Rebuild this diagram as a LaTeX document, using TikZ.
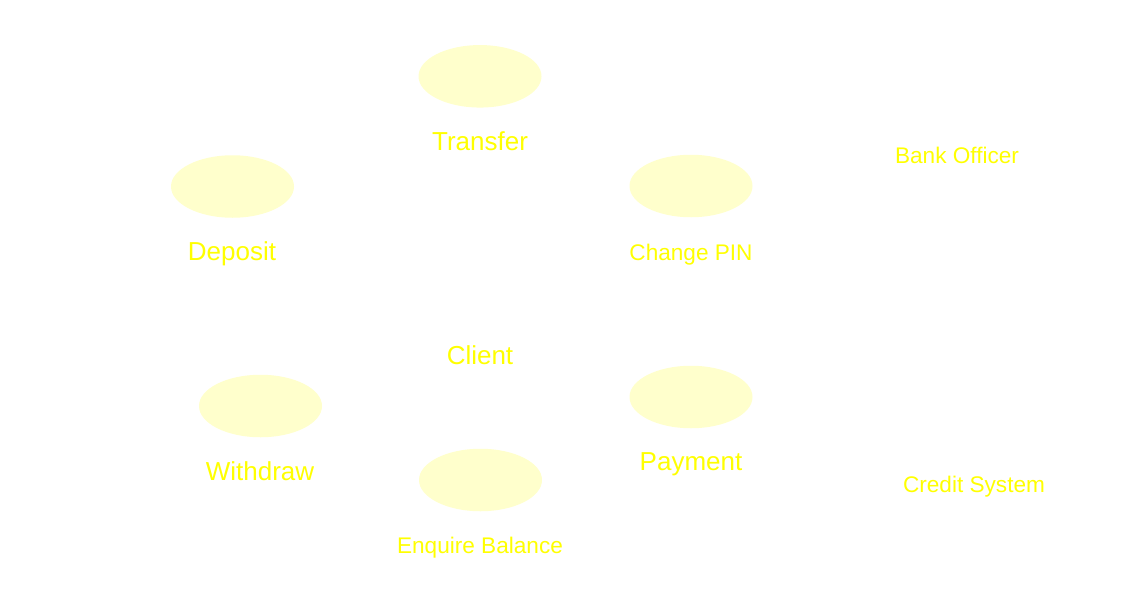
\documentclass[tikz,border=0pt]{standalone}
\usepackage{fontspec}
\setmainfont{Liberation Sans}
\usetikzlibrary{shapes.geometric}
\definecolor{ucfill}{HTML}{FFFFCC}
\definecolor{uctext}{HTML}{FFFF00}
\begin{document}
\begin{tikzpicture}[x=1pt,y=-1pt,
  usecase/.style={ellipse,fill=ucfill,draw=none,minimum width=123pt,minimum height=62.5pt,inner sep=0pt},
  biglabel/.style={anchor=base,text=uctext,font=\fontsize{26}{31}\selectfont,inner sep=0pt},
  smalllabel/.style={anchor=base,text=uctext,font=\fontsize{22.6}{27}\selectfont,inner sep=0pt}]
\useasboundingbox[fill=white] (0,0) rectangle (1121,613);
% use case ellipses
\node[usecase] (transfer) at (480,76.3) {};
\node[usecase] (deposit) at (232.5,186.5) {};
\node[usecase] (changepin) at (691,186) {};
\node[usecase] (withdraw) at (260.5,406) {};
\node[usecase] (enquire) at (480.5,480) {};
\node[usecase] (payment) at (691,397) {};
% labels
\node[biglabel] (ltransfer) at (480,150) {Transfer};
\node[biglabel] (ldeposit) at (232,260) {Deposit};
\node[smalllabel] (lchangepin) at (691,260) {Change PIN};
\node[biglabel] (lclient) at (480,364) {Client};
\node[biglabel] (lwithdraw) at (260,480) {Withdraw};
\node[biglabel] (lpayment) at (691,470) {Payment};
\node[smalllabel] (lenquire) at (480,553) {Enquire Balance};
\node[smalllabel] (lbank) at (957,163) {Bank Officer};
\node[smalllabel] (lcredit) at (974,492) {Credit System};
\end{tikzpicture}
\end{document}
